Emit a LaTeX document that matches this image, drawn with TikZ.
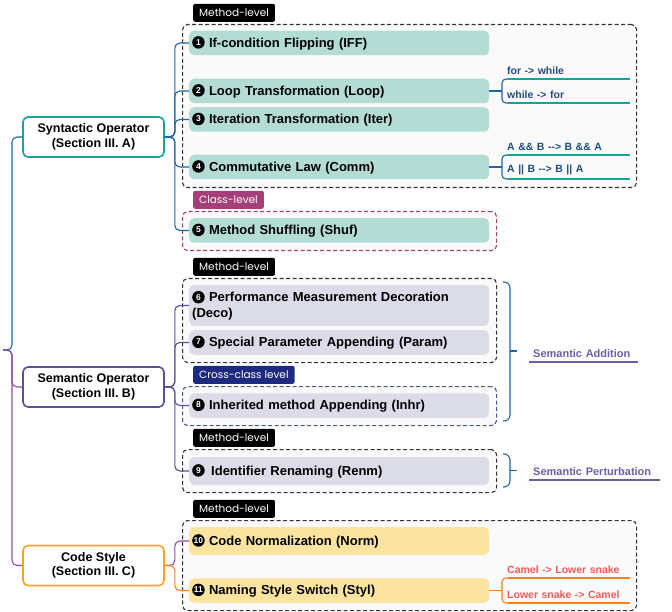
\documentclass[tikz,border=0pt]{standalone}
\usepackage{fontspec}
\setmainfont{Liberation Sans}
\newfontfamily\tagfont{Poppins}

\definecolor{synborder}{HTML}{17A398}
\definecolor{synfill}{HTML}{B3DCD5}
\definecolor{synblue}{HTML}{1F63A6}
\definecolor{semborder}{HTML}{5B4E9E}
\definecolor{semfill}{HTML}{DCDBE8}
\definecolor{codeborder}{HTML}{F8A41E}
\definecolor{codefill}{HTML}{FBE3A0}
\definecolor{codeorange}{HTML}{F5821F}
\definecolor{rootpurple}{HTML}{8A4E9E}
\definecolor{subblue}{HTML}{1E4E7C}
\definecolor{subred}{HTML}{F25A5A}
\definecolor{addpurple}{HTML}{6A5EAA}
\definecolor{classcol}{HTML}{A53F78}
\definecolor{crosscol}{HTML}{1E2A80}
\definecolor{grpfill}{HTML}{FAFAFA}

% numbered black circle
\newcommand\nm[1]{\tikz[baseline={([yshift=-4.7pt]nmc.center)}]
    \node[circle, fill=black, text=white, inner sep=0pt, minimum size=12.5pt,
        font=\bfseries\fontsize{8.5}{8.5}\selectfont] (nmc) {#1};}

\begin{document}
\begin{tikzpicture}[x=1pt, y=-1pt,
    cat/.style={draw, fill=white, line width=1.6pt, rounded corners=5pt, minimum width=141pt,
        minimum height=40pt, align=center, font=\bfseries\fontsize{12.5}{14.5}\selectfont},
    leaf/.style={anchor=west, rounded corners=5pt, inner xsep=3pt, text width=294pt,
        minimum height=24.5pt, align=left, font=\bfseries\fontsize{13}{15.5}\selectfont},
    grp/.style={draw=black!80, fill=grpfill, dash pattern=on 4pt off 2.5pt, line width=1.1pt,
        rounded corners=5pt, anchor=north west, inner sep=0pt},
    tag/.style={fill=black, text=white, anchor=south west, rounded corners=2pt, minimum height=18pt,
        inner xsep=6pt, font=\tagfont\fontsize{10.5}{12}\selectfont},
    sub/.style={anchor=south west, inner xsep=5pt, inner ysep=4pt, text width=118pt, align=left,
        font=\bfseries\fontsize{10.5}{12}\selectfont},
    lbl/.style={anchor=south west, inner xsep=4pt, inner ysep=4pt, align=left, text=addpurple,
        font=\bfseries\fontsize{11}{12}\selectfont},
    synwire/.style={draw=synblue, line width=1.1pt, rounded corners=5pt},
    semwire/.style={draw=semborder, line width=1.1pt, rounded corners=5pt},
    codewire/.style={draw=codeorange, line width=1.1pt, rounded corners=5pt},
    rootwire/.style={draw=rootpurple, line width=1.1pt, rounded corners=5pt},
    bracewire/.style={draw=synblue, line width=1.1pt, rounded corners=6pt}]
    \useasboundingbox (0,0) rectangle (672,612);

    % groups
    \node[grp, minimum width=454pt, minimum height=163pt] (g1) at (182,24) {};
    \node[grp, draw=classcol, minimum width=314pt, minimum height=39pt] (g2) at (182,211) {};
    \node[grp, minimum width=314pt, minimum height=84pt] (g3) at (182,278) {};
    \node[grp, draw=crosscol!80, minimum width=314pt, minimum height=39pt] (g4) at (182,386) {};
    \node[grp, minimum width=314pt, minimum height=43pt] (g5) at (182,449) {};
    \node[grp, minimum width=454pt, minimum height=90pt] (g6) at (182,520) {};

    \node[tag] (t1) at (193,22) {Method-level};
    \node[tag, fill=classcol] (t2) at (193,209) {Class-level};
    \node[tag] (t3) at (193,276) {Method-level};
    \node[tag, fill=crosscol] (t4) at (193,384) {Cross-class level};
    \node[tag] (t5) at (193,447) {Method-level};
    \node[tag] (t6) at (193,518) {Method-level};

    % categories
    \node[cat, draw=synborder] (syn) at (93.5,137) {Syntactic Operator\\(Section III. A)};
    \node[cat, draw=semborder] (sem) at (93.5,387) {Semantic Operator\\(Section III. B)};
    \node[cat, draw=codeborder] (code) at (93.5,565.5) {Code Style\\(Section III. C)};

    % syntactic
    \node[leaf, fill=synfill] (iff) at (189,43) {\nm{1} If-condition Flipping (IFF)};
    \node[leaf, fill=synfill] (loop) at (189,91) {\nm{2} Loop Transformation (Loop)};
    \node[leaf, fill=synfill] (iter) at (189,119.5) {\nm{3} Iteration Transformation (Iter)};
    \node[leaf, fill=synfill] (comm) at (189,167) {\nm{4} Commutative Law (Comm)};
    \node[leaf, fill=synfill] (shuf) at (189,230.5) {\nm{5} Method Shuffling (Shuf)};

    % semantic
    \node[leaf, fill=semfill, minimum height=41pt] (deco) at (189,305.5)
        {\nm{6} Performance Measurement Decoration\\(Deco)};
    \node[leaf, fill=semfill] (param) at (189,342.5) {\nm{7} Special Parameter Appending (Param)};
    \node[leaf, fill=semfill] (inhr) at (189,405.5) {\nm{8} Inherited method Appending (Inhr)};
    \node[leaf, fill=semfill, minimum height=28pt] (renm) at (189,471) {\nm{9}\, Identifier Renaming (Renm)};

    % code style
    \node[leaf, fill=codefill, minimum height=28pt] (norm) at (189,541) {\nm{10} Code Normalization (Norm)};
    \node[leaf, fill=codefill] (styl) at (189,590.5) {\nm{11} Naming Style Switch (Styl)};

    % sub-branches
    \node[sub, text=subblue] (fw) at (502,79) {for -> while};
    \node[sub, text=subblue] (wf) at (502,103) {while -> for};
    \node[sub, text=subblue] (andab) at (502,155) {A \&\& B -{}-> B \&\& A};
    \node[sub, text=subblue] (orab) at (502,179) {A || B -{}-> B || A};
    \node[sub, text=subred] (c2s) at (502,578) {Camel -> Lower snake};
    \node[sub, text=subred] (s2c) at (502,603) {Lower snake -> Camel};

    \node[lbl, text width=101pt] (add) at (529,362) {Semantic Addition};
    \node[lbl, text width=123pt] (pert) at (529,480) {Semantic Perturbation};

    % root
    \coordinate (root) at (3,350);
    \draw[synwire] (root) -- ++(9,0) |- (syn.west);
    \draw[rootwire] (root) -- ++(9,0) |- (sem.west);
    \draw[rootwire] (root) -- ++(9,0) |- (code.west);

    \foreach \n in {iff,loop,iter,comm,shuf}
        \draw[synwire] (syn.east) -- ++(10,0) |- (\n.west);
    \foreach \n in {deco,param,inhr,renm}
        \draw[semwire] (sem.east) -- ++(10,0) |- (\n.west);
    \draw[rootwire] (code.east) -- ++(10,0) |- (norm.west);
    \draw[codewire] (code.east) -- ++(10,0) |- (styl.west);

    % brackets
    \foreach \a/\b/\l/\c in {fw/wf/loop/synblue, andab/orab/comm/synblue, c2s/s2c/styl/codeorange} {
        \draw[draw=\c, line width=1.1pt] (\l.east) -- (\l.east -| \a.south west);
        \draw[draw=\c, line width=1.1pt, rounded corners=4pt] ([xshift=6pt]\a.south west) -- (\a.south west)
            -- (\b.south west) -- ([xshift=6pt]\b.south west);
    }
    \foreach \n in {fw,wf,andab,orab}
        \draw[synborder, line width=1.1pt] ([xshift=6pt]\n.south west) -- (\n.south east);
    \foreach \n in {c2s,s2c}
        \draw[codeorange, line width=1.1pt] ([xshift=6pt]\n.south west) -- (\n.south east);
    \draw[addpurple, line width=1.1pt] (add.south west) -- (add.south east);
    \draw[addpurple, line width=1.1pt] (pert.south west) -- (pert.south east);

    % braces
    \draw[bracewire] (503,282) -| (510,351) |- (503,421);
    \draw[bracewire] (510,351) -- ++(7,0);
    \draw[bracewire] (503,454) -| (510,470.5) |- (503,487);
    \draw[bracewire] (510,470.5) -- ++(7,0);
\end{tikzpicture}
\end{document}
